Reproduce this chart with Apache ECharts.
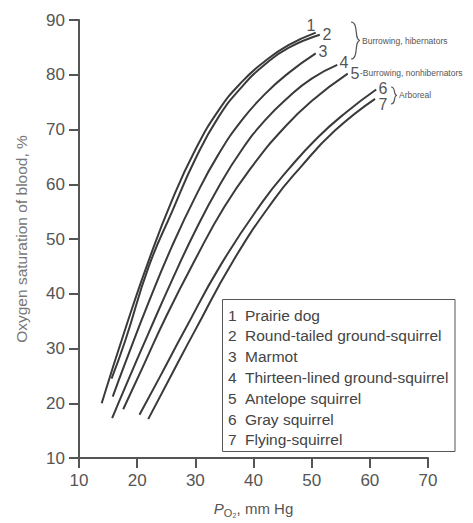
<!DOCTYPE html>
<html>
<head>
<meta charset="utf-8">
<script src="https://cdn.jsdelivr.net/npm/echarts@6/dist/echarts.min.js"></script>
<style>
html,body{margin:0;padding:0;background:#fff;}
#c{width:473px;height:523px;}
</style>
</head>
<body>
<div id="c"></div>
<script>
// ---- data ----
const xTicks = [10, 20, 30, 40, 50, 60, 70];
const yTicks = [10, 20, 30, 40, 50, 60, 70, 80, 90];

const p1 = [13.9, 18, 22, 26, 30, 34, 38, 42, 46, 50.7];
const s1 = [20.0, 33.7, 46.1, 57.1, 66.3, 73.5, 78.7, 82.5, 85.4, 87.7];

const p2 = [15.6, 18, 22, 26, 30, 34, 38, 42, 46, 51.4];
const s2 = [24.5, 31.6, 45.0, 55.0, 64.6, 72.3, 77.8, 81.9, 84.9, 87.3];

const p3 = [15.8, 18, 22, 26, 30, 34, 38, 42, 46, 50.7];
const s3 = [21.2, 27.5, 38.5, 48.7, 57.7, 65.5, 71.7, 76.5, 80.3, 83.9];

const p4 = [15.7, 18, 22, 26, 30, 34, 38, 42, 46, 50, 54.4];
const s4 = [17.3, 23.1, 32.9, 42.5, 51.5, 59.5, 66.3, 71.7, 75.9, 79.3, 81.8];

const p5 = [17.6, 21, 25, 30, 35, 40, 45, 50, 56.2];
const s5 = [18.9, 26.7, 35.9, 46.3, 55.9, 63.6, 70.0, 75.2, 80.2];

const p6 = [20.4, 24, 28, 34.5, 41.7, 46, 51, 56, 61.1];
const s6 = [17.9, 25.0, 33.0, 45.5, 57.0, 62.7, 68.5, 73.2, 77.3];

const p7 = [21.9, 26, 30, 36.5, 43.4, 48, 54, 60.9];
const s7 = [17.1, 25.4, 33.4, 46.0, 57.0, 63.0, 69.8, 75.6];

const curveNums = ['1', '2', '3', '4', '5', '6', '7'];
const species = ['Prairie dog', 'Round-tailed ground-squirrel', 'Marmot',
  'Thirteen-lined ground-squirrel', 'Antelope squirrel', 'Gray squirrel', 'Flying-squirrel'];
const groupLabels = ['Burrowing, hibernators', '-Burrowing, nonhibernators', 'Arboreal'];

const xTitle = 'mm Hg';
const yTitle = 'Oxygen saturation of blood, %';

// ---- build ----
const P = [p1, p2, p3, p4, p5, p6, p7];
const S = [s1, s2, s3, s4, s5, s6, s7];
const FONT = '"Liberation Sans", Arial, Helvetica, sans-serif';
const chart = echarts.init(document.getElementById('c'), null, {renderer: 'svg'});

const series = P.map((px, i) => ({
  name: curveNums[i],
  type: 'line',
  data: px.map((v, j) => [v, S[i][j]]),
  smooth: 0.5,
  showSymbol: false,
  silent: true,
  lineStyle: {color: '#3a3a3a', width: 2}
}));

// annotation positions (pixels) for the curve numbers
const numPos = [[311, 25], [327, 34], [323, 51], [344, 62], [355, 73], [383, 88], [383, 104]];

function txt(x, y, text, size, color, align) {
  return {type: 'text', x: x, y: y, silent: true,
    style: {text: text, fontSize: size, fontFamily: FONT, fill: color,
      align: align, verticalAlign: 'middle', textAlign: align, textVerticalAlign: 'middle'}};
}
function brace(x0, y0, y1, w) {
  const ym = (y0 + y1) / 2;
  const st = {fill: 'none', stroke: '#555', lineWidth: 1.2};
  return [
    {type: 'bezierCurve', silent: true, shape: {x1: x0, y1: y0, cpx1: x0 + w * 0.9, cpy1: y0, cpx2: x0 + w * 0.3, cpy2: ym, x2: x0 + w, y2: ym}, style: st},
    {type: 'bezierCurve', silent: true, shape: {x1: x0 + w, y1: ym, cpx1: x0 + w * 0.3, cpy1: ym, cpx2: x0 + w * 0.9, cpy2: y1, x2: x0, y2: y1}, style: st}
  ];
}

const graphic = [];
numPos.forEach((p, i) => graphic.push(txt(p[0], p[1], curveNums[i], 16, '#555', 'center')));
brace(351, 22, 59, 9).forEach(g => graphic.push(g));
brace(391, 87, 104, 6).forEach(g => graphic.push(g));
const grpPos = [[362, 41], [360, 73], [399, 95]];
grpPos.forEach((p, i) => graphic.push(txt(p[0], p[1], groupLabels[i], 8.5, '#555', 'left')));
// legend box
graphic.push({type: 'rect', silent: true, shape: {x: 222.5, y: 299.5, width: 232.5, height: 152},
  style: {fill: '#fff', stroke: '#555', lineWidth: 1}});
species.forEach((name, i) => {
  const y = 315 + i * 20.8;
  graphic.push(txt(228, y, curveNums[i], 15.5, '#444', 'left'));
  graphic.push(txt(245, y, name, 15.5, '#444', 'left'));
});

const axisCommon = {
  type: 'value',
  interval: 10,
  splitLine: {show: false},
  axisLine: {show: true, onZero: false, lineStyle: {color: '#555', width: 2}},
  axisTick: {show: true, length: 10, lineStyle: {color: '#555', width: 2}},
  axisLabel: {fontSize: 17, color: '#555', fontFamily: FONT, margin: 14}
};

chart.setOption({
  animation: false,
  backgroundColor: '#fff',
  grid: {left: 79, right: 45, top: 20, bottom: 64, containLabel: false},
  xAxis: Object.assign({}, axisCommon, {
    min: xTicks[0], max: xTicks[xTicks.length - 1],
    name: '{p|P}{s|O₂}{t|, ' + xTitle + '}',
    nameLocation: 'middle', nameGap: 40,
    nameTextStyle: {
      rich: {
        p: {fontSize: 15, fontStyle: 'italic', color: '#555', fontFamily: FONT},
        s: {fontSize: 11, color: '#555', fontFamily: FONT, padding: [9, 0, 0, 0]},
        t: {fontSize: 15, color: '#555', fontFamily: FONT}
      }
    }
  }),
  yAxis: Object.assign({}, axisCommon, {
    min: yTicks[0], max: yTicks[yTicks.length - 1],
    name: yTitle, nameLocation: 'middle', nameGap: 50,
    nameTextStyle: {fontSize: 15.5, color: '#777', fontFamily: FONT}
  }),
  series: series,
  graphic: graphic
});
</script>
</body>
</html>
